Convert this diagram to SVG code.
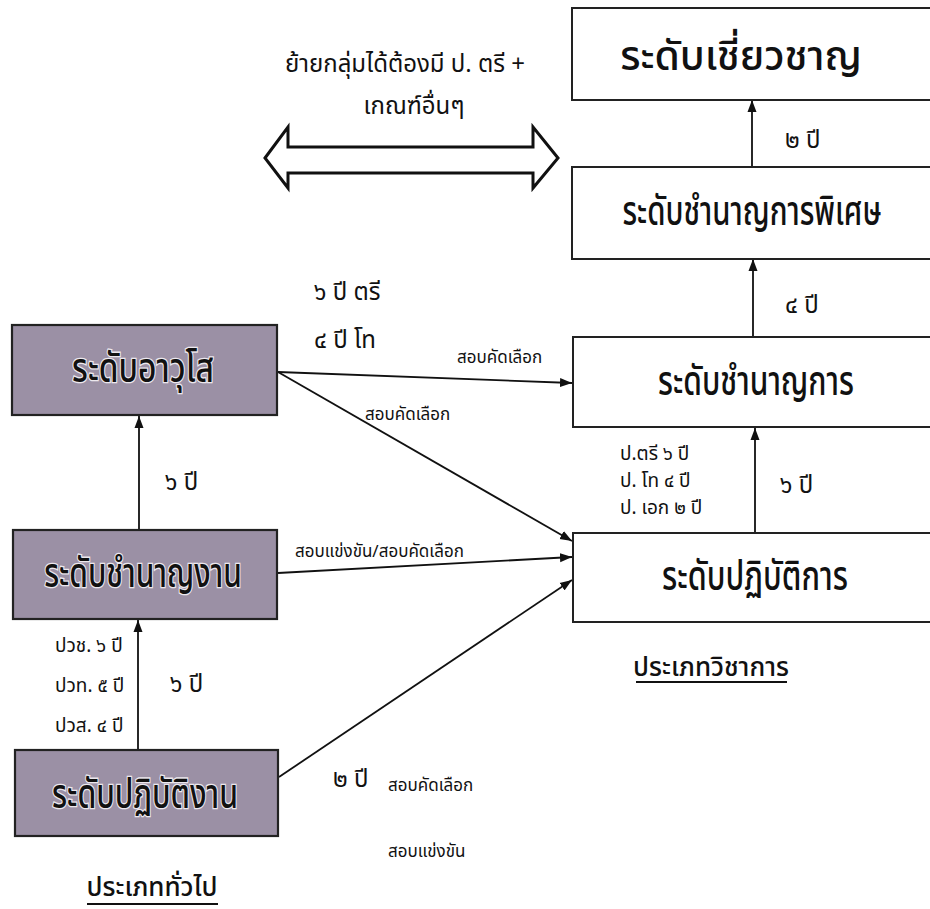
<svg xmlns="http://www.w3.org/2000/svg" width="930" height="909" viewBox="0 0 930 909">
<defs>
<marker id="ah" viewBox="0 0 12 10" refX="12" refY="5" markerWidth="12" markerHeight="10" markerUnits="userSpaceOnUse" orient="auto">
<path d="M0,0.5 L12,5 L0,9.5 z" fill="#111"/>
</marker>
</defs>
<style>
.wbox{fill:#fff;stroke:#222;stroke-width:2}
.gbox{fill:#9b90a5;stroke:#222;stroke-width:2.2}
.bt{font-family:"Noto Sans Thai","Noto Sans",sans-serif;font-size:30px;font-weight:500;fill:#111;text-anchor:middle}
.gt{paint-order:stroke;stroke:#ece8ee;stroke-width:2px}
.lb{font-family:"Noto Sans Thai","Noto Sans",sans-serif;font-size:17px;fill:#111}
.lv{font-family:"Noto Sans Thai","Noto Sans",sans-serif;font-size:19px;fill:#111}
.ly{font-family:"Noto Sans Thai","Noto Sans",sans-serif;font-size:24px;fill:#111}
.cn{stroke:#111;stroke-width:1.8;fill:none;marker-end:url(#ah)}
.hd{font-family:"Noto Sans Thai","Noto Sans",sans-serif;font-size:26px;font-weight:500;fill:#111;text-anchor:middle}
.ul{stroke:#111;stroke-width:2}
</style>
<rect width="930" height="909" fill="#fff"/>

<g id="connectors">
<line class="cn" x1="752" y1="167" x2="752" y2="100"/>
<line class="cn" x1="753" y1="337" x2="753" y2="259"/>
<line class="cn" x1="755" y1="533" x2="755" y2="428"/>
<line class="cn" x1="139" y1="530" x2="139" y2="416"/>
<line class="cn" x1="138" y1="750" x2="138" y2="620"/>
<line class="cn" x1="278" y1="372" x2="572" y2="383"/>
<line class="cn" x1="278" y1="372" x2="572" y2="541"/>
<line class="cn" x1="278" y1="573" x2="572" y2="557"/>
<line class="cn" x1="279" y1="777" x2="572" y2="580"/>
</g>

<g id="move-arrow">
<path d="M265,158 L288,127 L288,147 L533,147 L533,127 L558,158 L533,188 L533,173 L288,173 L288,188 Z" fill="#fff" stroke="#111" stroke-width="3"/>
<text class="ly" x="405" y="72" text-anchor="middle">ย้ายกลุ่มได้ต้องมี  ป. ตรี +</text>
<text class="ly" x="414" y="114" text-anchor="middle">เกณฑ์อื่นๆ</text>
</g>

<g id="n-expert">
<rect class="wbox" x="572" y="8" width="370" height="92"/>
<text class="bt" transform="translate(741,70) scale(1.36,1.35)">ระดับเชี่ยวชาญ</text>
</g>
<g id="n-senior-prof">
<rect class="wbox" x="572" y="167" width="370" height="92"/>
<text class="bt" transform="translate(752,225) scale(0.98,1.35)">ระดับชำนาญการพิเศษ</text>
</g>
<g id="n-prof">
<rect class="wbox" x="573" y="337" width="370" height="90"/>
<text class="bt" transform="translate(756,395) scale(1,1.35)">ระดับชำนาญการ</text>
</g>
<g id="n-practitioner">
<rect class="wbox" x="573" y="533" width="370" height="89"/>
<text class="bt" transform="translate(755,590) scale(1.02,1.35)">ระดับปฏิบัติการ</text>
</g>

<g id="n-senior">
<rect class="gbox" x="12" y="325" width="265" height="90"/>
<text class="bt gt" transform="translate(143,382) scale(1.06,1.35)">ระดับอาวุโส</text>
</g>
<g id="n-experienced">
<rect class="gbox" x="13" y="530" width="264" height="89"/>
<text class="bt gt" transform="translate(143,587) scale(1,1.35)">ระดับชำนาญงาน</text>
</g>
<g id="n-operational">
<rect class="gbox" x="15" y="750" width="263" height="86"/>
<text class="bt gt" transform="translate(145,808) scale(1.01,1.35)">ระดับปฏิบัติงาน</text>
</g>

<g id="labels">
<text class="ly" x="785" y="148">๒ ปี</text>
<text class="ly" x="785" y="313">๔ ปี</text>
<text class="ly" x="780" y="493">๖ ปี</text>
<text class="lv" x="620" y="460">ป.ตรี  ๖ ปี</text>
<text class="lv" x="620" y="487">ป. โท ๔ ปี</text>
<text class="lv" x="620" y="514">ป. เอก ๒ ปี</text>
<text class="ly" x="314" y="300">๖ ปี ตรี</text>
<text class="ly" x="314" y="348">๔ ปี โท</text>
<text class="lb" x="457" y="363">สอบคัดเลือก</text>
<text class="lb" x="365" y="420">สอบคัดเลือก</text>
<text class="ly" x="165" y="490">๖ ปี</text>
<text class="lb" x="295" y="557">สอบแข่งขัน/สอบคัดเลือก</text>
<text class="lv" x="55" y="652">ปวช. ๖ ปี</text>
<text class="lv" x="55" y="692">ปวท. ๕ ปี</text>
<text class="lv" x="55" y="732">ปวส. ๔ ปี</text>
<text class="ly" x="170" y="692">๖ ปี</text>
<text class="ly" x="333" y="787">๒ ปี</text>
<text class="lb" x="388" y="791">สอบคัดเลือก</text>
<text class="lb" x="388" y="857">สอบแข่งขัน</text>
<text class="hd" x="711" y="676">ประเภทวิชาการ</text>
<line class="ul" x1="636" y1="682" x2="787" y2="682"/>
<text class="hd" x="152" y="896">ประเภททั่วไป</text>
<line class="ul" x1="87" y1="904" x2="218" y2="904"/>
</g>
</svg>
